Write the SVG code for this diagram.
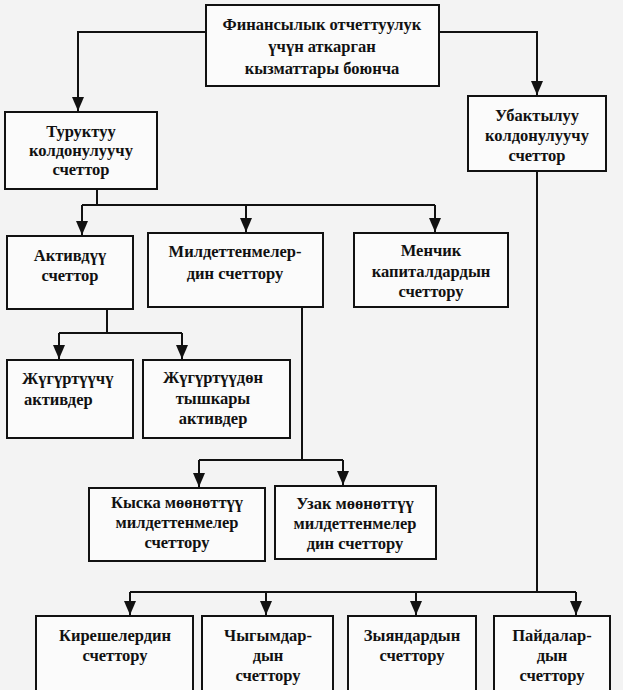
<svg xmlns="http://www.w3.org/2000/svg" width="623" height="690" viewBox="0 0 623 690">
<style>
.bg{fill:#f3f3f3}
.box{fill:#fbfbfb;stroke:#111;stroke-width:2}
.t{font-family:'Liberation Serif','Times New Roman','DejaVu Serif',serif;font-weight:700;font-size:16.5px;fill:#111;text-anchor:middle}
.l{text-anchor:start}
.c{fill:none;stroke:#111;stroke-width:2}
</style>
<defs>
<marker id="a" markerUnits="userSpaceOnUse" markerWidth="14" markerHeight="12" refX="14" refY="6" orient="auto" viewBox="0 0 14 12">
<path d="M0,0 L14,6 L0,12 Z" fill="#111"/>
</marker>
</defs>
<rect class="bg" x="0" y="0" width="623" height="690"/>
<g id="connectors">
<path class="c" d="M206,32 H78 V111" marker-end="url(#a)"/>
<path class="c" d="M439,32 H537 V95" marker-end="url(#a)"/>
<path class="c" d="M97,189 V205"/>
<path class="c" d="M82,205 H435"/>
<path class="c" d="M82,205 V235" marker-end="url(#a)"/>
<path class="c" d="M246,205 V232" marker-end="url(#a)"/>
<path class="c" d="M435,205 V232" marker-end="url(#a)"/>
<path class="c" d="M107,309 V333"/>
<path class="c" d="M59,333 H182"/>
<path class="c" d="M59,333 V359" marker-end="url(#a)"/>
<path class="c" d="M182,333 V359" marker-end="url(#a)"/>
<path class="c" d="M302,307 V460"/>
<path class="c" d="M199,460 H343"/>
<path class="c" d="M199,460 V487" marker-end="url(#a)"/>
<path class="c" d="M343,460 V485" marker-end="url(#a)"/>
<path class="c" d="M537,171 V592"/>
<path class="c" d="M130,592 H576"/>
<path class="c" d="M130,592 V615" marker-end="url(#a)"/>
<path class="c" d="M266,592 V615" marker-end="url(#a)"/>
<path class="c" d="M416,592 V615" marker-end="url(#a)"/>
<path class="c" d="M576,592 V615" marker-end="url(#a)"/>
</g>
<g id="n_top">
<rect class="box" x="206" y="5" width="233" height="81"/>
<text class="t" x="322" y="30">Финансылык отчеттуулук</text>
<text class="t" x="322" y="52">үчүн аткарган</text>
<text class="t" x="322" y="74">кызматтары боюнча</text>
</g>
<g id="n_turuktuu">
<rect class="box" x="5" y="112" width="152" height="77"/>
<text class="t" x="81" y="137">Туруктуу</text>
<text class="t" x="81" y="156">колдонулуучу</text>
<text class="t" x="81" y="175">счеттор</text>
</g>
<g id="n_ubaktyluu">
<rect class="box" x="468" y="96" width="138" height="75"/>
<text class="t" x="537" y="121">Убактылуу</text>
<text class="t" x="537" y="141">колдонулуучу</text>
<text class="t" x="537" y="161">счеттор</text>
</g>
<g id="n_aktivduu">
<rect class="box" x="7" y="236" width="126" height="73"/>
<text class="t" x="70" y="261">Активдүү</text>
<text class="t" x="70" y="281">счеттор</text>
</g>
<g id="n_mildettenmeler">
<rect class="box" x="148" y="233" width="175" height="74"/>
<text class="t" x="235" y="257">Милдеттенмелер-</text>
<text class="t" x="235" y="279">дин счеттору</text>
</g>
<g id="n_menchik">
<rect class="box" x="354" y="233" width="154" height="74"/>
<text class="t" x="431" y="256">Менчик</text>
<text class="t" x="431" y="277">капиталдардын</text>
<text class="t" x="431" y="297">счеттору</text>
</g>
<g id="n_jugurtuuchu">
<rect class="box" x="7" y="360" width="126" height="78"/>
<text class="t l" x="22" y="384">Жүгүртүүчү</text>
<text class="t l" x="24" y="405">активдер</text>
</g>
<g id="n_jugurtuudon">
<rect class="box" x="143" y="360" width="147" height="78"/>
<text class="t" x="213" y="383">Жүгүртүүдөн</text>
<text class="t" x="213" y="404">тышкары</text>
<text class="t" x="213" y="424">активдер</text>
</g>
<g id="n_kyska">
<rect class="box" x="89" y="488" width="176" height="73"/>
<text class="t" x="177" y="508">Кыска мөөнөттүү</text>
<text class="t" x="177" y="528">милдеттенмелер</text>
<text class="t" x="177" y="548">счеттору</text>
</g>
<g id="n_uzak">
<rect class="box" x="275" y="486" width="161" height="73"/>
<text class="t" x="355" y="509">Узак мөөнөттүү</text>
<text class="t" x="355" y="529">милдеттенмелер</text>
<text class="t" x="355" y="549">дин счеттору</text>
</g>
<g id="n_kireshe">
<rect class="box" x="36" y="616" width="157" height="80"/>
<text class="t" x="115" y="641">Кирешелердин</text>
<text class="t" x="115" y="661">счеттору</text>
</g>
<g id="n_chygym">
<rect class="box" x="202" y="616" width="131" height="80"/>
<text class="t" x="268" y="641">Чыгымдар-</text>
<text class="t" x="268" y="661">дын</text>
<text class="t" x="268" y="681">счеттору</text>
</g>
<g id="n_zyian">
<rect class="box" x="348" y="616" width="128" height="80"/>
<text class="t" x="412" y="641">Зыяндардын</text>
<text class="t" x="412" y="661">счеттору</text>
</g>
<g id="n_paida">
<rect class="box" x="494" y="616" width="116" height="80"/>
<text class="t" x="552" y="641">Пайдалар-</text>
<text class="t" x="552" y="661">дын</text>
<text class="t" x="552" y="681">счеттору</text>
</g>
</svg>
